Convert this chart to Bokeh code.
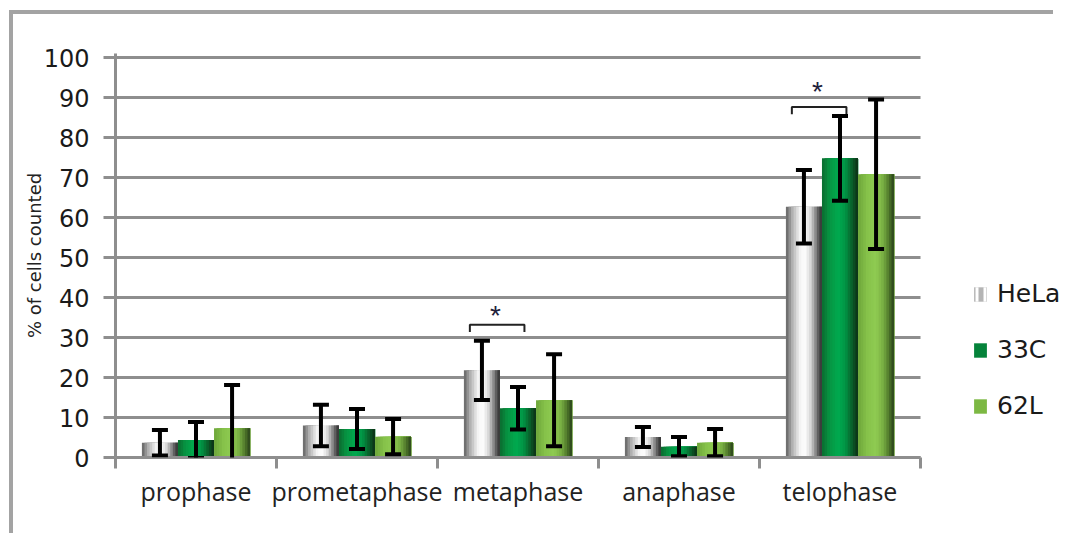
import numpy as np
from bokeh.plotting import figure
from bokeh.layouts import column
from bokeh.models import (ColumnDataSource, Whisker, TeeHead, FixedTicker, Legend,
                          LegendItem, Range1d)
from bokeh.core.properties import value
from bokeh.embed import file_html
from bokeh.resources import INLINE

# ---------------- data ----------------
categories = ["prophase", "prometaphase", "metaphase", "anaphase", "telophase"]
series = ["HeLa", "33C", "62L"]
hela = [3.7, 8.0, 21.8, 5.1, 62.7]
hela_err = [3.2, 5.2, 7.4, 2.5, 9.2]
c33 = [4.4, 7.1, 12.3, 2.7, 74.8]
c33_err = [4.5, 5.0, 5.3, 2.4, 10.6]
l62 = [7.3, 5.2, 14.3, 3.7, 70.8]
l62_err = [10.8, 4.4, 11.5, 3.4, 18.7]
sig_categories = ["metaphase", "telophase"]
sig_y = [33.2, 87.6]
star_y = [37.2, 93.2]
y_ticks = list(range(0, 101, 10))

values = [hela, c33, l62]
errors = [hela_err, c33_err, l62_err]

# ---------------- styles ----------------
W, H = 1060, 533
LEFT, TOP, BOTTOM = 115, 53, 76
PLOT_W = 805          # width of the category area in pixels
bar_w = 0.224
offsets = [-bar_w, 0.0, bar_w]
stops = [
    [(0, "#5e5e5e"), (0.15, "#a8a8a8"), (0.38, "#f2f2f2"), (0.52, "#ffffff"),
     (0.68, "#d8d8d8"), (0.82, "#8c8c8c"), (0.93, "#4a4a4a"), (1, "#303030")],
    [(0, "#0b6a2e"), (0.2, "#079442"), (0.45, "#00aa4f"), (0.65, "#019445"),
     (0.85, "#0a5a28"), (1, "#0d2c14")],
    [(0, "#6ea63a"), (0.25, "#86c24a"), (0.5, "#8fcb52"), (0.7, "#78ae42"),
     (0.88, "#4a7028"), (1, "#27401a")],
]
legend_colors = ["#b4b4b4", "#05833a", "#7cb843"]
GRID = "#8e8e8e"
N_STRIPS = 14


def interp(st, t):
    for (p0, c0), (p1, c1) in zip(st[:-1], st[1:]):
        if p0 <= t <= p1:
            f = (t - p0) / (p1 - p0) if p1 > p0 else 0
            a = np.array([int(c0[i:i + 2], 16) for i in (1, 3, 5)])
            b = np.array([int(c1[i:i + 2], 16) for i in (1, 3, 5)])
            r = (a + (b - a) * f).round().astype(int)
            return "#%02x%02x%02x" % tuple(r)
    return st[-1][1]


ncat = len(categories)
centers = np.arange(ncat) + 0.5
x_end = ncat * (W - LEFT) / PLOT_W

p = figure(width=W, height=H,
           min_border_left=LEFT, min_border_right=0, min_border_top=TOP, min_border_bottom=BOTTOM,
           x_range=Range1d(0, x_end), y_range=Range1d(0, 101),
           output_backend="svg", toolbar_location=None,
           background_fill_color="white", border_fill_alpha=0)
p.outline_line_alpha = 0
p.xgrid.visible = False
p.ygrid.visible = False

# horizontal gridlines limited to the category area
p.segment(x0=0, x1=ncat, y0=y_ticks, y1=y_ticks, line_color=GRID, line_width=3)

# bars as gradient strips (each strip runs to the bar's right edge; later ones cover)
sw = bar_w / N_STRIPS
for s in range(3):
    right = centers + offsets[s] + bar_w / 2
    for k in range(N_STRIPS):
        t = (k + 0.5) / N_STRIPS
        left = centers + offsets[s] - bar_w / 2 + k * sw
        p.vbar(x=(left + right) / 2, top=values[s], bottom=0, width=right[0] - left[0],
               fill_color=interp(stops[s], t), line_alpha=0)

# legend-only renderers (zero-height bars)
items = []
for s in range(3):
    kw = {}
    if s == 0:
        kw = dict(hatch_pattern="vertical_line", hatch_color="white",
                  hatch_scale=8, hatch_weight=3)
    r = p.vbar(x=[centers[0]], top=[0], bottom=[0], width=bar_w,
               fill_color=legend_colors[s], line_alpha=0, **kw)
    items.append(LegendItem(label=series[s], renderers=[r]))

# error bars
for s in range(3):
    v = np.array(values[s]); e = np.array(errors[s])
    src = ColumnDataSource(dict(x=centers + offsets[s], up=v + e, lo=v - e))
    w = Whisker(base="x", upper="up", lower="lo", source=src, level="overlay",
                line_color="black", line_width=4,
                upper_head=TeeHead(size=16, line_width=4, line_color="black"),
                lower_head=TeeHead(size=16, line_width=4, line_color="black"))
    p.add_layout(w)

# significance brackets
bx, by, sx, sy = [], [], [], []
for c, yv, ys in zip(sig_categories, sig_y, star_y):
    i = categories.index(c)
    xl = centers[i] + offsets[0] - 0.075
    xr = centers[i] + offsets[1] + 0.04
    bx.append([xl, xl, xr, xr]); by.append([yv - 1.8, yv, yv, yv - 1.8])
    sx.append((xl + xr) / 2 - 0.01); sy.append(ys)
p.multi_line(xs=bx, ys=by, line_color="#222222", line_width=2)
p.text(x=sx, y=sy, text=["*"] * len(sx), text_align="center", text_baseline="middle",
       text_font=value("Liberation Sans"), text_font_size="28px", text_color="#20203a",
       y_offset=7)

# axes
xa = p.xaxis[0]
xa.bounds = (0, ncat)
xa.ticker = FixedTicker(ticks=list(centers), minor_ticks=list(range(ncat + 1)))
xa.major_label_overrides = {float(c): lab for c, lab in zip(centers, categories)}
xa.major_tick_out = 0
xa.major_tick_in = 0
xa.minor_tick_out = 11
xa.minor_tick_in = 0
xa.minor_tick_line_color = GRID
xa.minor_tick_line_width = 3
xa.axis_line_color = GRID
xa.axis_line_width = 3
xa.major_label_text_font = "Open Sans"
xa.major_label_text_font_size = "25px"
xa.major_label_text_color = "#222222"
xa.major_label_standoff = 5

ya = p.yaxis[0]
ya.ticker = FixedTicker(ticks=y_ticks)
ya.major_tick_out = 12
ya.major_tick_in = 0
ya.major_tick_line_color = GRID
ya.major_tick_line_width = 3
ya.minor_tick_out = 0
ya.minor_tick_in = 0
ya.axis_line_color = GRID
ya.axis_line_width = 3
ya.major_label_text_font = "DejaVu Sans"
ya.major_label_text_font_size = "24px"
ya.major_label_text_color = "#1a1a1a"
ya.major_label_standoff = 14
ya.axis_label = "% of cells counted"
ya.axis_label_text_font = "DejaVu Sans"
ya.axis_label_text_font_size = "18px"
ya.axis_label_text_font_style = "normal"
ya.axis_label_text_color = "#222222"
ya.axis_label_standoff = -4

legend = Legend(items=items, location=(857, 37), orientation="vertical",
                glyph_width=16, glyph_height=18, label_height=18, spacing=27,
                label_standoff=9, padding=0, margin=0,
                border_line_alpha=0, background_fill_alpha=0,
                label_text_font="DejaVu Sans", label_text_font_size="25px",
                label_text_color="#1a1a1a")
p.add_layout(legend)

bc = "#a3a3a3"
page = column(p, width=W, height=H,
              styles={"background": (f"linear-gradient({bc},{bc}) 9px 10px / 4px 1000px no-repeat, "
                                     f"linear-gradient({bc},{bc}) 9px 10px / 1044px 4px no-repeat, white")})

open("out.html", "w").write(file_html(page, INLINE))
